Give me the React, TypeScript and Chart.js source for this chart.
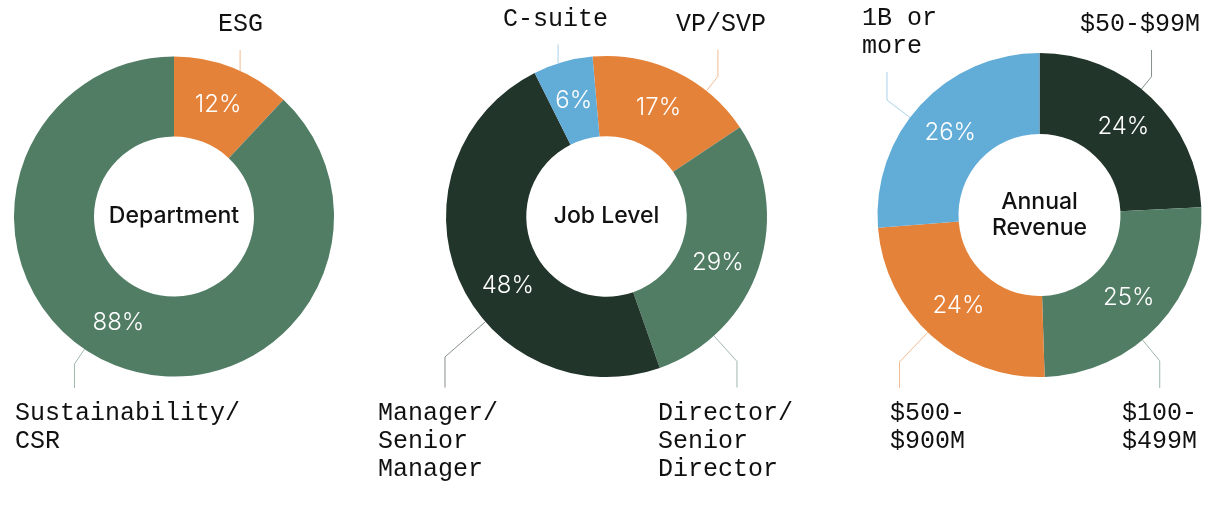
import { useEffect, useRef } from 'react';
import { Chart, registerables } from 'chart.js';

Chart.register(...registerables);

// ---- data ----
const deptLabels = ['ESG', 'Sustainability/\nCSR'];
const deptValues = [12, 88];

const jobLabels = ['VP/SVP', 'Director/\nSenior\nDirector', 'Manager/\nSenior\nManager', 'C-suite'];
const jobValues = [17, 29, 48, 6];

const revLabels = ['$50-$99M', '$100-\n$499M', '$500-\n$900M', '1B or\nmore'];
const revValues = [24, 25, 24, 26];

const ORANGE = '#E58239';
const GREEN = '#517D65';
const DARK = '#22352A';
const BLUE = '#62ACD8';

const MONO = '"Liberation Mono", "DejaVu Sans Mono", monospace';
const SANS = 'Inter, "Noto Sans", sans-serif';

type Callout = {
    angle: number;   // deg, clockwise from top, where the leader meets the ring
    elbow: number;   // radius of the bend
    endDy: number;   // y of the line end, relative to centre
    textDx: number;  // left edge of the text, relative to centre
};

type DonutProps = {
    width: number;
    pad: { left: number; right: number; top: number; bottom: number };
    title: string[];
    labels: string[];
    values: number[];
    colors: string[];
    rotation: number;
    callouts: Callout[];
    nudge?: number[];
};

function makeOverlay(p: DonutProps) {
    return {
        id: 'overlay',
        afterDraw(chart: Chart) {
            const ctx = chart.ctx;
            const meta = chart.getDatasetMeta(0);
            const arcs = meta.data as any[];
            if (!arcs.length) return;
            const { x: cx, y: cy, outerRadius: R, innerRadius: r } =
                arcs[0].getProps(['x', 'y', 'outerRadius', 'innerRadius'], true);

            ctx.save();
            // percentages
            ctx.fillStyle = '#fff';
            ctx.font = `300 24px ${SANS}`;
            ctx.textAlign = 'center';
            ctx.textBaseline = 'middle';
            arcs.forEach((arc, i) => {
                const { startAngle, endAngle } = arc.getProps(['startAngle', 'endAngle'], true);
                const mid = (startAngle + endAngle) / 2 + ((p.nudge?.[i] ?? 0) * Math.PI) / 180;
                const rr = (R + r) / 2;
                ctx.fillText(`${p.values[i]}%`, cx + Math.cos(mid) * rr, cy + Math.sin(mid) * rr);
            });

            // centre title
            ctx.fillStyle = '#111';
            ctx.font = `500 23px ${SANS}`;
            const lh = 26;
            p.title.forEach((t, i) => {
                ctx.fillText(t, cx, cy + (i - (p.title.length - 1) / 2) * lh);
            });

            // callouts
            ctx.lineWidth = 1;
            ctx.font = `25px ${MONO}`;
            ctx.textAlign = 'left';
            ctx.textBaseline = 'alphabetic';
            p.callouts.forEach((c, i) => {
                const a = (c.angle * Math.PI) / 180;
                const sx = cx + Math.sin(a) * R;
                const sy = cy - Math.cos(a) * R;
                const ex = cx + Math.sin(a) * c.elbow;
                const ey = cy - Math.cos(a) * c.elbow;
                ctx.strokeStyle = p.colors[i];
                ctx.globalAlpha = 0.55;
                ctx.beginPath();
                ctx.moveTo(sx, sy);
                ctx.lineTo(ex, ey);
                ctx.lineTo(ex, cy + c.endDy);
                ctx.stroke();
                ctx.globalAlpha = 1;

                const lines = p.labels[i].split('\n');
                const step = 28;
                const first = c.endDy < 0
                    ? cy + c.endDy - 19 - (lines.length - 1) * step
                    : cy + c.endDy + 32;
                ctx.fillStyle = '#111';
                lines.forEach((l, k) => ctx.fillText(l, cx + c.textDx, first + k * step));
            });
            ctx.restore();
        },
    };
}

function Donut(p: DonutProps) {
    const canvasRef = useRef<HTMLCanvasElement>(null);
    const chartRef = useRef<Chart | null>(null);

    useEffect(() => {
        if (!canvasRef.current) return;
        if (chartRef.current) chartRef.current.destroy();

        chartRef.current = new Chart(canvasRef.current, {
            type: 'doughnut',
            data: {
                labels: p.labels,
                datasets: [{
                    data: p.values,
                    backgroundColor: p.colors,
                    borderWidth: 0,
                    hoverOffset: 0,
                }],
            },
            options: {
                responsive: true,
                maintainAspectRatio: false,
                animation: false,
                cutout: '50%',
                rotation: p.rotation,
                layout: { padding: p.pad },
                plugins: {
                    legend: { display: false },
                    tooltip: { enabled: false },
                },
            },
            plugins: [makeOverlay(p)],
        });

        return () => {
            if (chartRef.current) {
                chartRef.current.destroy();
                chartRef.current = null;
            }
        };
    }, []);

    return (
        <div style={{ position: 'relative', width: p.width, height: 507 }}>
            <canvas ref={canvasRef}></canvas>
        </div>
    );
}

export default function App() {
    return (
        <div style={{ position: 'absolute', left: 0, top: 0, width: 1220, height: 507, display: 'flex', background: '#fff' }}>
            <Donut
                width={370}
                pad={{ left: 14, right: 36, top: 56.5, bottom: 130.5 }}
                title={['Department']}
                labels={deptLabels}
                values={deptValues}
                colors={[ORANGE, GREEN]}
                rotation={0}
                nudge={[0, 6]}
                callouts={[
                    { angle: 24.4, elbow: 160, endDy: -166.5, textDx: 44 },
                    { angle: 214, elbow: 178, endDy: 171.5, textDx: -159 },
                ]}
            />
            <Donut
                width={460}
                pad={{ left: 75.5, right: 62.5, top: 56, bottom: 130 }}
                title={['Job Level']}
                labels={jobLabels}
                values={jobValues}
                colors={[ORANGE, GREEN, DARK, BLUE]}
                rotation={-5}
                nudge={[0, 4, -12, 0]}
                callouts={[
                    { angle: 38.5, elbow: 179, endDy: -167, textDx: 69.5 },
                    { angle: 138, elbow: 195, endDy: 171, textDx: 51.5 },
                    { angle: 229, elbow: 214, endDy: 171, textDx: -228.5 },
                    { angle: 342.5, elbow: 161, endDy: -172, textDx: -103.5 },
                ]}
            />
            <Donut
                width={390}
                pad={{ left: 47.5, right: 18.5, top: 53, bottom: 130 }}
                title={['Annual', 'Revenue']}
                labels={revLabels}
                values={revValues}
                colors={[DARK, GREEN, ORANGE, BLUE]}
                rotation={0}
                callouts={[
                    { angle: 39, elbow: 178, endDy: -165, textDx: 40.5 },
                    { angle: 140.5, elbow: 189, endDy: 173, textDx: 82.5 },
                    { angle: 223.6, elbow: 203, endDy: 173, textDx: -149.5 },
                    { angle: 307, elbow: 191, endDy: -143, textDx: -177.5 },
                ]}
            />
        </div>
    );
}
